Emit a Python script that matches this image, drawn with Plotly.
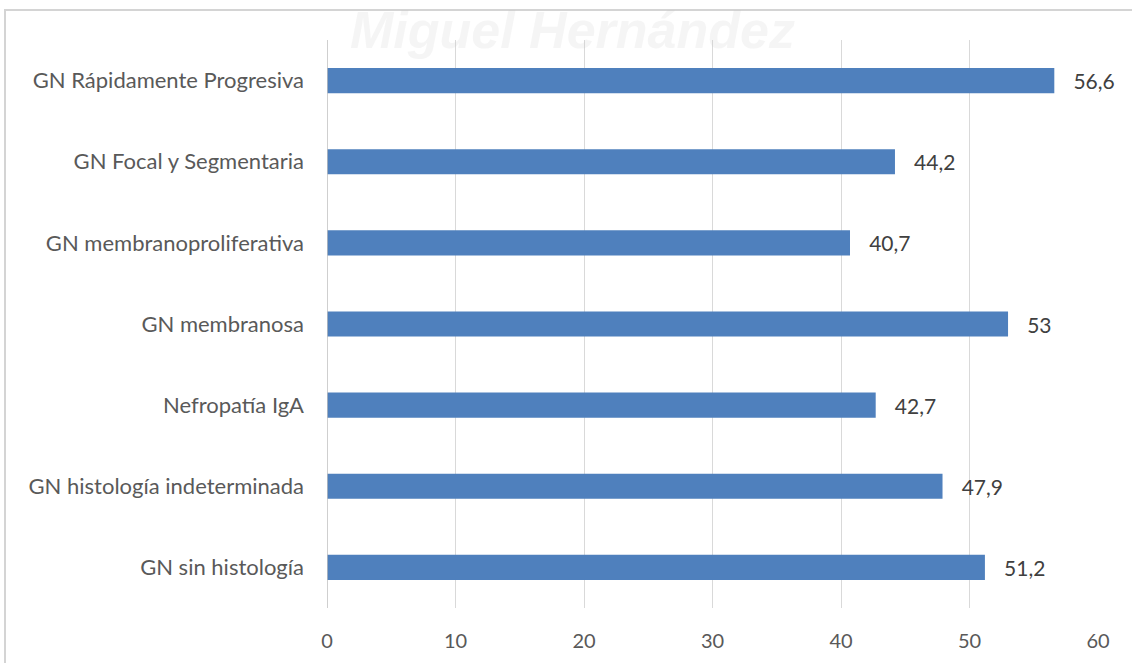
import plotly.graph_objects as go

categories = [
    "GN sin histología",
    "GN histología indeterminada",
    "Nefropatía IgA",
    "GN membranosa",
    "GN membranoproliferativa",
    "GN Focal y Segmentaria",
    "GN Rápidamente Progresiva",
]
values = [51.2, 47.9, 42.7, 53, 40.7, 44.2, 56.6]
labels = ["\u00a0\u00a0\u00a0" + str(v).replace(".", ",") for v in values]
x_ticks = [0, 10, 20, 30, 40, 50, 60]

W, H = 1132, 663
L, R, T, B = 327, 34, 40, 55
pw, ph = W - L - R, H - T - B

def px_x(p):
    return (p - L) / pw

def px_y(p):
    return (H - B - p) / ph

fig = go.Figure(go.Bar(
    y=categories, x=values, orientation="h",
    marker=dict(color="#4f80bd", line=dict(width=0)),
    width=0.31,
    text=labels, textposition="outside",
    textfont=dict(family="Lato", size=21, color="#404040"),
    cliponaxis=False,
    hoverinfo="skip",
))

shape_line = dict(color="#d4d4d4", width=2)
fig.update_layout(
    width=W, height=H,
    margin=dict(l=L, r=R, t=T, b=B),
    paper_bgcolor="white", plot_bgcolor="white",
    font=dict(family="Lato", size=21, color="#595959"),
    showlegend=False,
    xaxis=dict(range=[0, 60], tickvals=x_ticks, showgrid=True, gridcolor="#d9d9d9",
               gridwidth=1, zeroline=False, showline=False, ticks="",
               ticklabelstandoff=19, tickfont=dict(size=20, color="#595959")),
    yaxis=dict(categoryorder="array", categoryarray=categories, showgrid=False,
               zeroline=False, showline=False, ticks="", ticklabelstandoff=22,
               tickfont=dict(size=22, color="#595959")),
    shapes=[
        dict(type="line", xref="paper", yref="paper", x0=px_x(4), x1=px_x(1140),
             y0=px_y(10), y1=px_y(10), line=shape_line, layer="above"),
        dict(type="line", xref="paper", yref="paper", x0=px_x(5), x1=px_x(5),
             y0=px_y(10), y1=px_y(670), line=shape_line, layer="above"),
        dict(type="line", xref="x", yref="paper", x0=0, x1=0, y0=0, y1=1,
             line=dict(color="#bfbfbf", width=1.5), layer="above"),
    ],
    annotations=[
        dict(text="<i><b>Miguel Hernández</b></i>", xref="paper", yref="paper",
             x=px_x(572), y=px_y(30), xanchor="center", yanchor="middle",
             showarrow=False, font=dict(family="Liberation Sans Narrow, Liberation Sans", size=52,
                                        color="rgba(200,200,200,0.18)")),
    ],
)

fig.write_html("out.html", config={"displayModeBar": False},
               post_script="document.body.style.margin='0';")
